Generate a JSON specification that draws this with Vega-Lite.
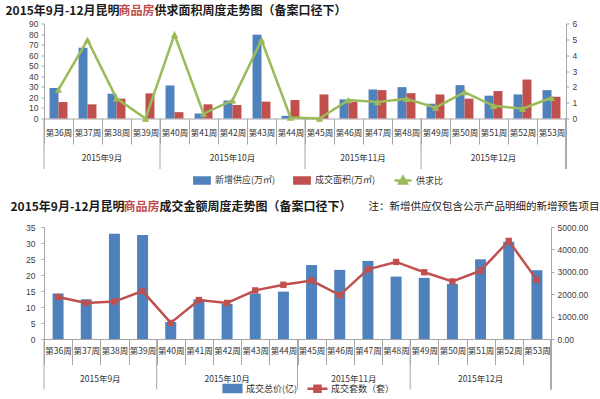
{
  "$schema": "https://vega.github.io/schema/vega-lite/v6.json",
  "padding": {"left": 5, "top": 3.5, "right": 2, "bottom": 0},
  "background": "white",
  "spacing": 10.5,
  "config": {
    "font": "Noto Sans CJK SC",
    "view": {"stroke": null},
    "axis": {"grid": false, "labelOverlap": false, "domainColor": "#A6A6A6", "tickColor": "#A6A6A6", "labelColor": "#404040", "labelFont": "Liberation Sans", "labelFontSize": 8.5, "titleFont": "Noto Sans CJK SC", "titleFontSize": 12, "titleFontWeight": "bold", "titleColor": "#1A1A1A", "titleAngle": 0, "titleAlign": "left", "titleBaseline": "alphabetic"},
    "legend": {"labelFont": "Noto Sans CJK SC", "labelFontSize": 9, "labelColor": "#333333"}
  },
  "resolve": {"scale": {"x": "independent", "y": "independent", "color": "independent"}},
  "datasets": {
    "area": [
      {"week": "第36周", "series": "新增供应(万㎡)", "value": 29},
      {"week": "第37周", "series": "新增供应(万㎡)", "value": 67},
      {"week": "第38周", "series": "新增供应(万㎡)", "value": 23.4},
      {"week": "第39周", "series": "新增供应(万㎡)", "value": 0},
      {"week": "第40周", "series": "新增供应(万㎡)", "value": 31.3},
      {"week": "第41周", "series": "新增供应(万㎡)", "value": 4.7},
      {"week": "第42周", "series": "新增供应(万㎡)", "value": 17},
      {"week": "第43周", "series": "新增供应(万㎡)", "value": 79.4},
      {"week": "第44周", "series": "新增供应(万㎡)", "value": 2.5},
      {"week": "第45周", "series": "新增供应(万㎡)", "value": 0},
      {"week": "第46周", "series": "新增供应(万㎡)", "value": 18.1},
      {"week": "第47周", "series": "新增供应(万㎡)", "value": 27.5},
      {"week": "第48周", "series": "新增供应(万㎡)", "value": 29.7},
      {"week": "第49周", "series": "新增供应(万㎡)", "value": 14},
      {"week": "第50周", "series": "新增供应(万㎡)", "value": 31.6},
      {"week": "第51周", "series": "新增供应(万㎡)", "value": 21.6},
      {"week": "第52周", "series": "新增供应(万㎡)", "value": 22.8},
      {"week": "第53周", "series": "新增供应(万㎡)", "value": 26.9},
      {"week": "第36周", "series": "成交面积(万㎡)", "value": 15.6},
      {"week": "第37周", "series": "成交面积(万㎡)", "value": 13.4},
      {"week": "第38周", "series": "成交面积(万㎡)", "value": 18.8},
      {"week": "第39周", "series": "成交面积(万㎡)", "value": 23.8},
      {"week": "第40周", "series": "成交面积(万㎡)", "value": 6},
      {"week": "第41周", "series": "成交面积(万㎡)", "value": 13.4},
      {"week": "第42周", "series": "成交面积(万㎡)", "value": 12.8},
      {"week": "第43周", "series": "成交面积(万㎡)", "value": 16},
      {"week": "第44周", "series": "成交面积(万㎡)", "value": 17.5},
      {"week": "第45周", "series": "成交面积(万㎡)", "value": 22.8},
      {"week": "第46周", "series": "成交面积(万㎡)", "value": 16},
      {"week": "第47周", "series": "成交面积(万㎡)", "value": 26.9},
      {"week": "第48周", "series": "成交面积(万㎡)", "value": 24},
      {"week": "第49周", "series": "成交面积(万㎡)", "value": 22.8},
      {"week": "第50周", "series": "成交面积(万㎡)", "value": 18.8},
      {"week": "第51周", "series": "成交面积(万㎡)", "value": 26},
      {"week": "第52周", "series": "成交面积(万㎡)", "value": 36.9},
      {"week": "第53周", "series": "成交面积(万㎡)", "value": 20.6}
    ],
    "ratio": [
      {"week": "第36周", "ratio": 1.83},
      {"week": "第37周", "ratio": 4.96},
      {"week": "第38周", "ratio": 1.27},
      {"week": "第39周", "ratio": 0},
      {"week": "第40周", "ratio": 5.3},
      {"week": "第41周", "ratio": 0.31},
      {"week": "第42周", "ratio": 1.15},
      {"week": "第43周", "ratio": 4.96},
      {"week": "第44周", "ratio": 0.06},
      {"week": "第45周", "ratio": 0},
      {"week": "第46周", "ratio": 1.17},
      {"week": "第47周", "ratio": 1.04},
      {"week": "第48周", "ratio": 1.25},
      {"week": "第49周", "ratio": 0.69},
      {"week": "第50周", "ratio": 1.67},
      {"week": "第51周", "ratio": 0.8},
      {"week": "第52周", "ratio": 0.62},
      {"week": "第53周", "ratio": 1.31}
    ],
    "amount": [
      {"week": "第36周", "total": 14.2, "units": 1875},
      {"week": "第37周", "total": 12.4, "units": 1610},
      {"week": "第38周", "total": 32.9, "units": 1670},
      {"week": "第39周", "total": 32.5, "units": 2140},
      {"week": "第40周", "total": 5.3, "units": 720},
      {"week": "第41周", "total": 12.4, "units": 1740},
      {"week": "第42周", "total": 11, "units": 1610},
      {"week": "第43周", "total": 14.2, "units": 2170},
      {"week": "第44周", "total": 14.8, "units": 2420},
      {"week": "第45周", "total": 23.1, "units": 2610},
      {"week": "第46周", "total": 21.6, "units": 1960},
      {"week": "第47周", "total": 24.4, "units": 3110},
      {"week": "第48周", "total": 19.5, "units": 3440},
      {"week": "第49周", "total": 19.1, "units": 2980},
      {"week": "第50周", "total": 17.2, "units": 2570},
      {"week": "第51周", "total": 24.9, "units": 3055},
      {"week": "第52周", "total": 30.4, "units": 4380},
      {"week": "第53周", "total": 21.5, "units": 2640}
    ],
    "monthStart": [{"week": "第36周"}, {"week": "第40周"}, {"week": "第45周"}, {"week": "第49周"}],
    "monthEdge": [{"week": "第38周", "month": "2015年9月"}, {"week": "第47周", "month": "2015年11月"}],
    "monthMid": [{"week": "第42周", "month": "2015年10月"}, {"week": "第51周", "month": "2015年12月"}]
  },
  "vconcat": [
    {
      "width": 522,
      "height": 95,
      "resolve": {"scale": {"y": "independent"}},
      "layer": [
        {
          "data": {"name": "area"},
          "mark": {"type": "bar"},
          "encoding": {
            "x": {"field": "week", "type": "nominal", "scale": {"paddingInner": 0, "paddingOuter": 0},
              "axis": {"title": "商品房", "titleColor": "#C0504D", "titleX": 74, "titleY": -104.2, "tickBand": "extent", "tickSize": 25.5, "labelAngle": 0, "labelPadding": -15.5, "labelFont": "Noto Sans CJK SC", "labelFontSize": 8.5, "labelColor": "#333333", "labelBaseline": "top", "labelOverlap": false}},
            "xOffset": {"field": "series", "type": "nominal", "sort": ["新增供应(万㎡)", "成交面积(万㎡)"], "scale": {"paddingInner": 0, "paddingOuter": 0.62}},
            "y": {"field": "value", "type": "quantitative", "scale": {"domain": [0, 90]},
              "axis": {"values": [0, 10, 20, 30, 40, 50, 60, 70, 80, 90], "labelOverlap": false, "tickSize": 3, "labelPadding": 3, "title": "2015年9月-12月昆明", "titleX": -39, "titleY": -9.2}},
            "color": {"field": "series", "type": "nominal",
              "scale": {"domain": ["新增供应(万㎡)", "成交面积(万㎡)", "供求比"], "range": ["#4F81BD", "#C0504D", "#9BBB59"]},
              "legend": {"orient": "none", "legendX": 148, "legendY": 146.5, "direction": "horizontal", "title": null, "symbolSize": 289, "labelOffset": 3, "columnPadding": 13,
                "encode": {"symbols": {"update": {
                  "shape": {"signal": "datum.value === '供求比' ? 'M-1,0H1M-0.45,0.35L0,-0.45L0.45,0.35Z' : 'M-0.9,-0.36H0.9V0.36H-0.9Z'"},
                  "stroke": {"signal": "datum.value === '供求比' ? '#9BBB59' : 'transparent'"},
                  "strokeWidth": {"value": 2.5}}}}}}
          }
        },
        {
          "data": {"name": "ratio"},
          "mark": {"type": "line", "strokeWidth": 2.5, "point": {"shape": "triangle-up", "size": 55, "filled": true}},
          "encoding": {
            "x": {"field": "week", "type": "nominal"},
            "y": {"field": "ratio", "type": "quantitative", "scale": {"domain": [0, 6]},
              "axis": {"orient": "right", "values": [0, 1, 2, 3, 4, 5, 6], "labelOverlap": false, "tickSize": 3, "labelPadding": 3, "title": "供求面积周度走势图（备案口径下）", "titleX": -412, "titleY": -9.2}},
            "color": {"datum": "供求比"}
          }
        },
        {
          "layer": [
            {
              "data": {"name": "monthStart"},
              "mark": {"type": "rule", "color": "#A6A6A6", "y2Offset": 50.5},
              "encoding": {"x": {"field": "week", "type": "nominal", "bandPosition": 0}, "y": {"datum": 0, "type": "quantitative", "scale": {"domain": [0, 1]}, "axis": null}, "y2": {"datum": 0}}
            },
            {
              "data": {"name": "monthStart"},
              "mark": {"type": "rule", "color": "#A6A6A6", "y2Offset": 50.5},
              "encoding": {"x": {"datum": "第53周", "type": "nominal", "bandPosition": 1}, "y": {"datum": 0, "type": "quantitative"}, "y2": {"datum": 0}}
            },
            {
              "data": {"name": "monthEdge"},
              "mark": {"type": "text", "dy": 39.5, "fontSize": 8.5, "color": "#333333", "baseline": "middle"},
              "encoding": {"x": {"field": "week", "type": "nominal", "bandPosition": 0}, "y": {"datum": 0, "type": "quantitative"}, "text": {"field": "month"}}
            },
            {
              "data": {"name": "monthMid"},
              "mark": {"type": "text", "dy": 39.5, "fontSize": 8.5, "color": "#333333", "baseline": "middle"},
              "encoding": {"x": {"field": "week", "type": "nominal", "bandPosition": 0.5}, "y": {"datum": 0, "type": "quantitative"}, "text": {"field": "month"}}
            }
          ]
        }
      ]
    },
    {
      "width": 507,
      "height": 112,
      "resolve": {"scale": {"y": "independent"}},
      "layer": [
        {
          "data": {"name": "amount"},
          "mark": {"type": "bar", "width": {"band": 0.39}},
          "encoding": {
            "x": {"field": "week", "type": "nominal", "scale": {"paddingInner": 0, "paddingOuter": 0},
              "axis": {"title": "商品房", "titleColor": "#C0504D", "titleX": 79, "titleY": -128.5, "tickBand": "extent", "tickSize": 25.5, "labelAngle": 0, "labelPadding": -18, "labelFont": "Noto Sans CJK SC", "labelFontSize": 8.5, "labelColor": "#333333", "labelBaseline": "top", "labelOverlap": false}},
            "y": {"field": "total", "type": "quantitative", "scale": {"domain": [0, 35]},
              "axis": {"values": [0, 5, 10, 15, 20, 25, 30, 35], "labelOverlap": false, "tickSize": 3, "labelPadding": 6, "title": "2015年9月-12月昆明", "titleX": -34, "titleY": -16.5}},
            "color": {"datum": "成交总价(亿)",
              "scale": {"domain": ["成交总价(亿)", "成交套数（套）"], "range": ["#4F81BD", "#C0504D"]},
              "legend": {"orient": "none", "legendX": 177, "legendY": 150, "direction": "horizontal", "title": null, "symbolSize": 400, "labelOffset": 2, "columnPadding": 4,
                "encode": {"symbols": {"update": {
                  "shape": {"signal": "datum.value === '成交套数（套）' ? 'M-1,0H1M-0.3,-0.3H0.3V0.3H-0.3Z' : 'M-0.88,-0.35H0.88V0.35H-0.88Z'"},
                  "stroke": {"signal": "datum.value === '成交套数（套）' ? '#C0504D' : 'transparent'"},
                  "strokeWidth": {"value": 2.5}}}}}}
          }
        },
        {
          "data": {"name": "amount"},
          "mark": {"type": "line", "strokeWidth": 2.5, "point": {"shape": "square", "size": 40, "filled": true}},
          "encoding": {
            "x": {"field": "week", "type": "nominal"},
            "y": {"field": "units", "type": "quantitative", "scale": {"domain": [0, 5000]},
              "axis": {"orient": "right", "values": [0, 1000, 2000, 3000, 4000, 5000], "labelOverlap": false, "format": ".2f", "tickSize": 3, "labelPadding": 3, "title": "成交金额周度走势图（备案口径下）", "titleX": -392, "titleY": -16.5}},
            "color": {"datum": "成交套数（套）"}
          }
        },
        {
          "layer": [
            {
              "data": {"name": "monthEdge"},
              "mark": {"type": "text", "dy": 40, "fontSize": 8.5, "color": "#333333", "baseline": "middle"},
              "encoding": {"x": {"field": "week", "type": "nominal", "bandPosition": 0},
                "y": {"datum": 0, "type": "quantitative", "scale": {"domain": [0, 1]},
                  "axis": {"orient": "left", "labels": false, "ticks": false, "domain": false, "title": "注：新增供应仅包含公示产品明细的新增预售项目", "titleX": 324, "titleY": -17.5, "titleFontWeight": "normal", "titleFontSize": 10.5}},
                "text": {"field": "month"}}
            },
            {
              "data": {"name": "monthMid"},
              "mark": {"type": "text", "dy": 40, "fontSize": 8.5, "color": "#333333", "baseline": "middle"},
              "encoding": {"x": {"field": "week", "type": "nominal", "bandPosition": 0.5}, "y": {"datum": 0, "type": "quantitative"}, "text": {"field": "month"}}
            },
            {
              "data": {"name": "monthStart"},
              "mark": {"type": "rule", "color": "#A6A6A6", "y2Offset": 50.5},
              "encoding": {"x": {"field": "week", "type": "nominal", "bandPosition": 0}, "y": {"datum": 0, "type": "quantitative"}, "y2": {"datum": 0}}
            },
            {
              "data": {"name": "monthStart"},
              "mark": {"type": "rule", "color": "#A6A6A6", "y2Offset": 50.5},
              "encoding": {"x": {"datum": "第53周", "type": "nominal", "bandPosition": 1}, "y": {"datum": 0, "type": "quantitative"}, "y2": {"datum": 0}}
            }
          ]
        }
      ]
    }
  ]
}
